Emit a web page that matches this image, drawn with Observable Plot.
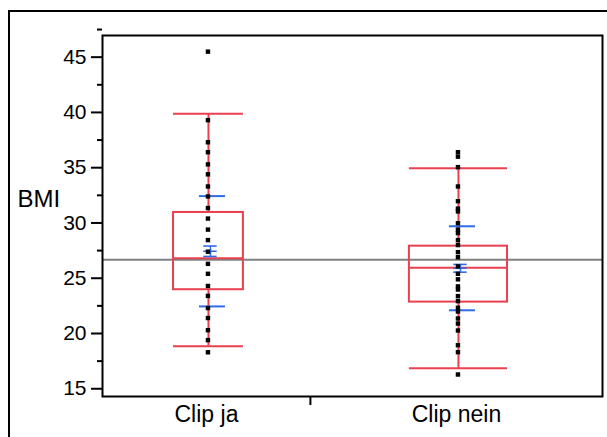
<!DOCTYPE html>
<html>
<head>
<meta charset="utf-8">
<script src="https://cdn.jsdelivr.net/npm/d3@7"></script>
<script src="https://cdn.jsdelivr.net/npm/@observablehq/plot@0.6"></script>
<style>
  html, body { margin: 0; padding: 0; background: #fff; }
  #chart svg { display: block; }
</style>
</head>
<body>
<div id="chart"></div>
<script>
// ---- data ----
const groups = ["Clip ja", "Clip nein"];
const groupN = [42, 59];                 // group sizes (set the band widths)
const boxQ1 = [23.96, 22.84];
const boxMedian = [26.8, 25.95];
const boxQ3 = [30.95, 27.9];
const whiskerLow = [18.85, 16.86];
const whiskerHigh = [39.88, 34.96];
const groupMean = [27.44, 25.9];
const groupSD = [4.99, 3.8];
const groupCIHalf = [0.47, 0.35];
const grandMean = 26.67;
const pointsJa = [45.5, 39.3, 37.3, 36.4, 35.3, 34.4, 33.3, 32.4, 31.35, 30.4, 29.4, 28.45, 27.4, 26.3, 25.4, 24.3, 23.4, 22.3, 21.4, 20.3, 19.4, 18.3];
const pointsNein = [36.4, 36.0, 35.05, 33.3, 31.97, 31.3, 31.04, 29.98, 29.4, 29.08, 28.45, 28.0, 27.36, 26.9, 26.07, 25.4, 24.9, 24.26, 23.98, 23.38, 22.93, 22.33, 21.99, 21.36, 20.9, 20.27, 18.94, 18.31, 16.29];
const yMajorTicks = [15, 20, 25, 30, 35, 40, 45];
const yMinorTicks = [17.5, 22.5, 27.5, 32.5, 37.5, 42.5, 47.5];
const yLabel = "BMI";

// ---- derived tables ----
const total = d3.sum(groupN);
let acc = 0;
const rows = groups.map((g, i) => {
  const start = acc; acc += groupN[i];
  const center = start + groupN[i] / 2;
  const half = 0.168 * groupN[i];
  return {group: g, i, start, end: acc, center, x1: center - half, x2: center + half,
          q1: boxQ1[i], med: boxMedian[i], q3: boxQ3[i], lo: whiskerLow[i], hi: whiskerHigh[i],
          mean: groupMean[i], sd: groupSD[i], ci: groupCIHalf[i]};
});
const pointRows = [
  ...pointsJa.map(v => ({center: rows[0].center, v})),
  ...pointsNein.map(v => ({center: rows[1].center, v}))
];
const capRows = rows.flatMap(r => [{...r, v: r.lo}, {...r, v: r.hi}]);
const sdRows = rows.flatMap(r => [{center: r.center, v: r.mean - r.sd}, {center: r.center, v: r.mean + r.sd}]);
const ciRows = rows.flatMap(r => [{center: r.center, v: r.mean - r.ci}, {center: r.center, v: r.mean}, {center: r.center, v: r.mean + r.ci}]);

const RED = "#e8404f";
const BLUE = "#2f6be6";

const plot = Plot.plot({
  width: 607,
  height: 437,
  marginLeft: 102,
  marginRight: 5,
  marginTop: 35,
  marginBottom: 41,
  style: {fontFamily: "'Liberation Sans', Arial, sans-serif", fontSize: "21px", color: "#000", background: "#fff"},
  x: {domain: [0, total], axis: null},
  y: {domain: [14.3, 46.96], axis: null},
  marks: [
    // grand mean line
    Plot.ruleY([grandMean], {stroke: "#808080", strokeWidth: 2}),
    // whiskers
    Plot.ruleX(rows, {x: "center", y1: "q3", y2: "hi", stroke: RED, strokeWidth: 2, dx: 2}),
    Plot.ruleX(rows, {x: "center", y1: "q1", y2: "lo", stroke: RED, strokeWidth: 2, dx: 2}),
    Plot.ruleY(capRows, {y: "v", x1: "x1", x2: "x2", stroke: RED, strokeWidth: 2, dx: 2}),
    // boxes
    Plot.rect(rows, {x1: "x1", x2: "x2", y1: "q1", y2: "q3", fill: "none", stroke: RED, strokeWidth: 2, dx: 2}),
    Plot.ruleY(rows, {y: "med", x1: "x1", x2: "x2", stroke: RED, strokeWidth: 2, dx: 2}),
    // mean ± sd lines
    Plot.ruleY(sdRows, {y: "v", x1: "center", x2: "center", insetLeft: -13, insetRight: -13, dx: 6, stroke: BLUE, strokeWidth: 2}),
    // mean & CI
    Plot.ruleX(rows, {x: "center", y1: d => d.mean - d.ci, y2: d => d.mean + d.ci, dx: 4, stroke: BLUE, strokeWidth: 1.5}),
    Plot.ruleY(ciRows, {y: "v", x1: "center", x2: "center", insetLeft: -6.7, insetRight: -6.7, dx: 4, stroke: BLUE, strokeWidth: 1.6}),
    // points
    Plot.dot(pointRows, {x: "center", y: "v", symbol: "square", r: 2.5, fill: "#000", stroke: "none", dx: 1.5}),
    // frame
    Plot.frame({stroke: "#000", strokeWidth: 2}),
    // y axis
    Plot.axisY({ticks: yMajorTicks, tickSize: 11, tickPadding: 5, strokeWidth: 2, label: null, fontSize: 21}),
    Plot.axisY({ticks: yMinorTicks, tickSize: 5, text: null, strokeWidth: 2, label: null}),
    // x axis
    Plot.axisX({ticks: rows.map(r => r.end).slice(0, -1), tickSize: 9, text: null, strokeWidth: 2, label: null}),
    Plot.axisX({ticks: rows.map(r => r.center), tickSize: 0, tickPadding: 9, tickFormat: (d, i) => groups[i], fontSize: 23, label: null}),
    // y label
    Plot.text([yLabel], {text: d => d, frameAnchor: "left", textAnchor: "start", dx: -85, dy: -17, fontSize: 24, fill: "#000"})
  ]
});

// outer frame (left and top edges)
d3.select(plot).append("path")
  .attr("d", "M9,437V11H607")
  .attr("fill", "none")
  .attr("stroke", "#000")
  .attr("stroke-width", 2);

document.getElementById("chart").appendChild(plot);
</script>
</body>
</html>
